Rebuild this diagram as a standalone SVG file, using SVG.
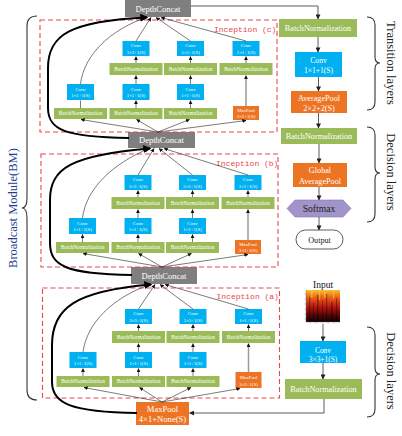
<svg xmlns="http://www.w3.org/2000/svg" width="402" height="436" viewBox="0 0 402 436">
<defs>
<style>
.bn{fill:#9bbb59}
.cv{fill:#00b0f0}
.or{fill:#ed7422}
.dc{fill:#7f7f7f}
.t{font-family:"Liberation Serif",serif;fill:#fff;text-anchor:middle}
.f5{font-size:5.4px}
.f4{font-size:4.8px}
.f8{font-size:8.2px}
.dash{fill:none;stroke:#e8474c;stroke-width:1.1;stroke-dasharray:5,3}
.lab{font-family:"Liberation Mono",monospace;font-size:8px;fill:#e8474c}
.ln{fill:none;stroke:#222;stroke-width:0.6;marker-end:url(#ah)}
.gl{fill:none;stroke:#9a9a9a;stroke-width:1.5;marker-end:url(#ah)}
.th{fill:none;stroke:#000;stroke-width:2;marker-end:url(#ahb)}
.rl{fill:none;stroke:#333;stroke-width:0.8;marker-end:url(#ahr)}
.br{fill:none;stroke:#333;stroke-width:1.1}
.side{font-family:"Liberation Serif",serif;font-size:12.5px;fill:#222;text-anchor:middle}
</style>
<marker id="ah" viewBox="0 0 6 6" refX="5.5" refY="3" markerWidth="4" markerHeight="4" orient="auto" markerUnits="userSpaceOnUse"><path d="M0,0 L6,3 L0,6 z" fill="#111"/></marker>
<marker id="ahr" viewBox="0 0 6 6" refX="5.5" refY="3" markerWidth="5" markerHeight="5" orient="auto" markerUnits="userSpaceOnUse"><path d="M0,0 L6,3 L0,6 z" fill="#222"/></marker>
<marker id="ahb" viewBox="0 0 6 6" refX="5" refY="3" markerWidth="8" markerHeight="8" orient="auto" markerUnits="userSpaceOnUse"><path d="M0,0 L6,3 L0,6 z" fill="#000"/></marker>
<linearGradient id="heat" x1="0" y1="0" x2="0" y2="1">
<stop offset="0" stop-color="#f7c22c"/>
<stop offset="0.25" stop-color="#ea5a1a"/>
<stop offset="0.55" stop-color="#b3120f"/>
<stop offset="0.8" stop-color="#4d0606"/>
<stop offset="1" stop-color="#120000"/>
</linearGradient>
</defs>
<rect width="402" height="436" fill="#fff"/>

<!-- Broadcast Module bracket -->
<g id="bm">
<path class="br" d="M37,16 Q27,16 27,26 L27,198 Q27,208 22,208 Q27,208 27,218 L27,390 Q27,400 37,400"/>
<text transform="translate(17,208) rotate(-90)" font-family="Liberation Serif,serif" font-size="12.5" fill="#1f3f8f" text-anchor="middle">Broadcast Module(BM)</text>
</g>

<!-- DepthConcat nodes -->
<g id="dc-top"><rect class="dc" x="125" y="0" width="66" height="17"/><text class="t" font-size="8.5" x="158" y="11.5">DepthConcat</text></g>
<g id="dc-mid"><rect class="dc" x="128" y="132" width="67" height="16"/><text class="t" font-size="8.5" x="161.5" y="143">DepthConcat</text></g>
<g id="dc-low"><rect class="dc" x="131" y="267" width="66" height="17"/><text class="t" font-size="8.5" x="164" y="278.5">DepthConcat</text></g>
<g id="maxpool-in"><rect class="or" x="136" y="402" width="53" height="23"/><text class="t" font-size="8.6" x="162.5" y="411.5">MaxPool</text><text class="t" font-size="8.6" x="162.5" y="421.5">4×1+None(S)</text></g>

<!-- Inception (c) -->
<g id="inception-c" transform="translate(40,20)">
<rect class="dash" x="0" y="0" width="237" height="112"/><text class="lab" x="174" y="11.5">Inception (c)</text>
<g id="c-bn1"><rect class="bn" x="14" y="88" width="53" height="11"/><text class="t f5" x="40.5" y="95.4">BatchNormalization</text></g>
<g id="c-cv1"><rect class="cv" x="27" y="64" width="27" height="16"/><text class="t f4" x="40.5" y="70.5">Conv</text><text class="t f4" x="40.5" y="77">1×1+1(S)</text></g>
<g id="c-bn2"><rect class="bn" x="69.5" y="88" width="53" height="11"/><text class="t f5" x="96" y="95.4">BatchNormalization</text></g>
<g id="c-cv2"><rect class="cv" x="82.5" y="64" width="27" height="16"/><text class="t f4" x="96" y="70.5">Conv</text><text class="t f4" x="96" y="77">1×1+1(S)</text></g>
<g id="c-bn2u"><rect class="bn" x="69.5" y="43" width="53" height="12"/><text class="t f5" x="96" y="50.9">BatchNormalization</text></g>
<g id="c-cv2u"><rect class="cv" x="82.5" y="21" width="27" height="15"/><text class="t f4" x="96" y="27">Conv</text><text class="t f4" x="96" y="33.5">3×3+1(S)</text></g>
<g id="c-bn3"><rect class="bn" x="124" y="88" width="53" height="11"/><text class="t f5" x="150.5" y="95.4">BatchNormalization</text></g>
<g id="c-cv3"><rect class="cv" x="137" y="64" width="27" height="16"/><text class="t f4" x="150.5" y="70.5">Conv</text><text class="t f4" x="150.5" y="77">1×1+1(S)</text></g>
<g id="c-bn3u"><rect class="bn" x="124" y="43" width="53" height="12"/><text class="t f5" x="150.5" y="50.9">BatchNormalization</text></g>
<g id="c-cv3u"><rect class="cv" x="137" y="21" width="27" height="15"/><text class="t f4" x="150.5" y="27">Conv</text><text class="t f4" x="150.5" y="33.5">5×5+1(S)</text></g>
<g id="c-mp"><rect class="or" x="193" y="86" width="26" height="14"/><text class="t f4" x="206" y="92">MaxPool</text><text class="t f4" x="206" y="98">3×3+1(S)</text></g>
<g id="c-bn4u"><rect class="bn" x="179.5" y="43" width="53" height="12"/><text class="t f5" x="206" y="50.9">BatchNormalization</text></g>
<g id="c-cv4u"><rect class="cv" x="192.5" y="21" width="27" height="15"/><text class="t f4" x="206" y="27">Conv</text><text class="t f4" x="206" y="33.5">1×1+1(S)</text></g>
</g>

<!-- Inception (b) -->
<g id="inception-b" transform="translate(42,154)">
<rect class="dash" x="-1" y="0" width="237" height="113"/><text class="lab" x="174" y="11.5">Inception (b)</text>
<g id="b-bn1"><rect class="bn" x="14" y="88" width="53" height="11"/><text class="t f5" x="40.5" y="95.4">BatchNormalization</text></g>
<g id="b-cv1"><rect class="cv" x="27" y="64" width="27" height="16"/><text class="t f4" x="40.5" y="70.5">Conv</text><text class="t f4" x="40.5" y="77">1×1+1(S)</text></g>
<g id="b-bn2"><rect class="bn" x="69.5" y="88" width="53" height="11"/><text class="t f5" x="96" y="95.4">BatchNormalization</text></g>
<g id="b-cv2"><rect class="cv" x="82.5" y="64" width="27" height="16"/><text class="t f4" x="96" y="70.5">Conv</text><text class="t f4" x="96" y="77">1×1+1(S)</text></g>
<g id="b-bn2u"><rect class="bn" x="69.5" y="43" width="53" height="12"/><text class="t f5" x="96" y="50.9">BatchNormalization</text></g>
<g id="b-cv2u"><rect class="cv" x="82.5" y="21" width="27" height="15"/><text class="t f4" x="96" y="27">Conv</text><text class="t f4" x="96" y="33.5">3×3+1(S)</text></g>
<g id="b-bn3"><rect class="bn" x="124" y="88" width="53" height="11"/><text class="t f5" x="150.5" y="95.4">BatchNormalization</text></g>
<g id="b-cv3"><rect class="cv" x="137" y="64" width="27" height="16"/><text class="t f4" x="150.5" y="70.5">Conv</text><text class="t f4" x="150.5" y="77">1×1+1(S)</text></g>
<g id="b-bn3u"><rect class="bn" x="124" y="43" width="53" height="12"/><text class="t f5" x="150.5" y="50.9">BatchNormalization</text></g>
<g id="b-cv3u"><rect class="cv" x="137" y="21" width="27" height="15"/><text class="t f4" x="150.5" y="27">Conv</text><text class="t f4" x="150.5" y="33.5">5×5+1(S)</text></g>
<g id="b-mp"><rect class="or" x="193" y="86" width="26" height="14"/><text class="t f4" x="206" y="92">MaxPool</text><text class="t f4" x="206" y="98">3×3+1(S)</text></g>
<g id="b-bn4u"><rect class="bn" x="179.5" y="43" width="53" height="12"/><text class="t f5" x="206" y="50.9">BatchNormalization</text></g>
<g id="b-cv4u"><rect class="cv" x="192.5" y="21" width="27" height="15"/><text class="t f4" x="206" y="27">Conv</text><text class="t f4" x="206" y="33.5">1×1+1(S)</text></g>
</g>

<!-- Inception (a) -->
<g id="inception-a" transform="translate(42.5,288)">
<rect class="dash" x="0" y="0" width="237" height="110"/><text class="lab" x="174" y="10.5">Inception (a)</text>
<g id="a-bn1"><rect class="bn" x="14" y="88" width="53" height="11"/><text class="t f5" x="40.5" y="95.4">BatchNormalization</text></g>
<g id="a-cv1"><rect class="cv" x="27" y="64" width="27" height="16"/><text class="t f4" x="40.5" y="70.5">Conv</text><text class="t f4" x="40.5" y="77">1×1+1(S)</text></g>
<g id="a-bn2"><rect class="bn" x="69.5" y="88" width="53" height="11"/><text class="t f5" x="96" y="95.4">BatchNormalization</text></g>
<g id="a-cv2"><rect class="cv" x="82.5" y="64" width="27" height="16"/><text class="t f4" x="96" y="70.5">Conv</text><text class="t f4" x="96" y="77">1×1+1(S)</text></g>
<g id="a-bn2u"><rect class="bn" x="69.5" y="43" width="53" height="12"/><text class="t f5" x="96" y="50.9">BatchNormalization</text></g>
<g id="a-cv2u"><rect class="cv" x="82.5" y="21" width="27" height="15"/><text class="t f4" x="96" y="27">Conv</text><text class="t f4" x="96" y="33.5">3×3+1(S)</text></g>
<g id="a-bn3"><rect class="bn" x="124" y="88" width="53" height="11"/><text class="t f5" x="150.5" y="95.4">BatchNormalization</text></g>
<g id="a-cv3"><rect class="cv" x="137" y="64" width="27" height="16"/><text class="t f4" x="150.5" y="70.5">Conv</text><text class="t f4" x="150.5" y="77">1×1+1(S)</text></g>
<g id="a-bn3u"><rect class="bn" x="124" y="43" width="53" height="12"/><text class="t f5" x="150.5" y="50.9">BatchNormalization</text></g>
<g id="a-cv3u"><rect class="cv" x="137" y="21" width="27" height="15"/><text class="t f4" x="150.5" y="27">Conv</text><text class="t f4" x="150.5" y="33.5">5×5+1(S)</text></g>
<g id="a-mp"><rect class="or" x="193" y="84" width="26" height="16"/><text class="t f4" x="206" y="91">MaxPool</text><text class="t f4" x="206" y="97.5">3×3+1(S)</text></g>
<g id="a-bn4u"><rect class="bn" x="179.5" y="43" width="53" height="12"/><text class="t f5" x="206" y="50.9">BatchNormalization</text></g>
<g id="a-cv4u"><rect class="cv" x="192.5" y="21" width="27" height="15"/><text class="t f4" x="206" y="27">Conv</text><text class="t f4" x="206" y="33.5">1×1+1(S)</text></g>
</g>

<!-- Right column -->
<g id="tr-bn"><rect class="bn" x="279" y="19" width="78" height="18"/><text class="t f8" x="318" y="30.9">BatchNormalization</text></g>
<g id="tr-conv"><rect class="cv" x="295" y="52" width="47" height="25"/><text class="t" font-size="7.6" x="318.5" y="62.5">Conv</text><text class="t" font-size="7.6" x="318.5" y="72.5">1×1+1(S)</text></g>
<g id="tr-avg"><rect class="or" x="291" y="91" width="56" height="22"/><text class="t" font-size="8.2" x="319" y="101">AveragePool</text><text class="t" font-size="8.2" x="319" y="110.5">2×2+2(S)</text></g>
<g id="de-bn"><rect class="bn" x="281" y="128" width="76" height="16"/><text class="t f8" x="319" y="138.9">BatchNormalization</text></g>
<g id="de-gap"><rect class="or" x="293" y="163" width="54" height="24"/><text class="t" font-size="8.2" x="320" y="173">Global</text><text class="t" font-size="8.2" x="320" y="184">AveragePool</text></g>
<g id="softmax"><polygon points="287,208.5 295,200 343,200 351,208.5 343,217 295,217" fill="#a094c8" stroke="#8576b5" stroke-width="0.6"/><text x="319" y="211.8" font-family="Liberation Serif,serif" font-size="9.6" fill="#222" text-anchor="middle">Softmax</text></g>
<g id="output"><rect x="296" y="230" width="47" height="19" rx="9.5" fill="#fff" stroke="#333" stroke-width="0.8"/><text x="319.5" y="242.5" font-family="Liberation Serif,serif" font-size="8.2" fill="#222" text-anchor="middle">Output</text></g>

<g id="input">
<text x="323" y="287.5" font-family="Liberation Serif,serif" font-size="9.5" fill="#111" text-anchor="middle">Input</text>
<rect x="306" y="290" width="34" height="32" fill="url(#heat)"/>
<g fill="#000" opacity="0.35">
<rect x="309" y="297" width="1.2" height="25"/><rect x="313" y="303" width="1" height="19"/><rect x="317" y="295" width="1.5" height="27"/><rect x="322" y="300" width="1" height="22"/><rect x="326" y="294" width="1.2" height="28"/><rect x="331" y="302" width="1.5" height="20"/><rect x="336" y="298" width="1" height="24"/>
</g>
<g fill="#ffd84a" opacity="0.5">
<rect x="311" y="290" width="1.5" height="8"/><rect x="319" y="290" width="1" height="10"/><rect x="324" y="291" width="1.5" height="7"/><rect x="333" y="290" width="1.2" height="9"/>
</g>
<path d="M306,290 V322 H340" fill="none" stroke="#666" stroke-width="0.4"/>
<path d="M304.5,294 H306 M304.5,299 H306 M304.5,304 H306 M304.5,309 H306 M304.5,314 H306 M304.5,319 H306 M310,322 V323.5 M316,322 V323.5 M322,322 V323.5 M328,322 V323.5 M334,322 V323.5" stroke="#666" stroke-width="0.4"/>
</g>
<g id="de-conv"><rect class="cv" x="300" y="341" width="46" height="22"/><text class="t" font-size="7.4" x="323" y="352.5">Conv</text><text class="t" font-size="7.4" x="323" y="361.5">3×3+1(S)</text></g>
<g id="de-bn2"><rect class="bn" x="285" y="379" width="77" height="20"/><text class="t f8" x="323.5" y="392">BatchNormalization</text></g>

<!-- Braces and side labels -->
<g id="brace-transition"><path class="br" d="M367,17 Q375,17 375,25 L375,57 Q375,63 380,63 Q375,63 375,69 L375,102 Q375,110 367,110"/><text class="side" transform="translate(387,63) rotate(90)">Transition layers</text></g>
<g id="brace-decision1"><path class="br" d="M367,127 Q375,127 375,135 L375,167 Q375,173 380,173 Q375,173 375,179 L375,214 Q375,222 367,222"/><text class="side" transform="translate(387,172) rotate(90)">Decision layers</text></g>
<g id="brace-decision2"><path class="br" d="M367,327 Q375,327 375,335 L375,368 Q375,374 380,374 Q375,374 375,380 L375,409 Q375,417 367,417"/><text class="side" transform="translate(387,371) rotate(90)">Decision layers</text></g>

<!-- Connectors -->
<g id="connectors">
<g transform="translate(40,20)">
<path class="ln" d="M40.5,88 V80.5 M96,88 V80.5"/><path class="ln" d="M150.5,88 V80.5"/>
<path class="ln" d="M96,64 V55.5"/><path class="ln" d="M150.5,64 V55.5"/>
<path class="ln" d="M96,43 V36.5"/><path class="ln" d="M150.5,43 V36.5"/><path class="ln" d="M206,43 V36.5"/>
<path class="gl" d="M206,86 V55.5"/>
</g>
<g transform="translate(42,154)">
<path class="ln" d="M40.5,88 V80.5"/><path class="ln" d="M96,88 V80.5"/><path class="ln" d="M150.5,88 V80.5"/>
<path class="ln" d="M96,64 V55.5"/><path class="ln" d="M150.5,64 V55.5"/>
<path class="ln" d="M96,43 V36.5"/><path class="ln" d="M150.5,43 V36.5"/><path class="ln" d="M206,43 V36.5"/>
<path class="gl" d="M206,86 V55.5"/>
</g>
<g transform="translate(42.5,288)">
<path class="ln" d="M40.5,88 V80.5"/><path class="ln" d="M96,88 V80.5"/><path class="ln" d="M150.5,88 V80.5"/>
<path class="ln" d="M96,64 V55.5"/><path class="ln" d="M150.5,64 V55.5"/>
<path class="ln" d="M96,43 V36.5"/><path class="ln" d="M150.5,43 V36.5"/><path class="ln" d="M206,43 V36.5"/>
<path class="gl" d="M206,84 V55.5"/>
</g>
<!-- to top DepthConcat -->
<path class="ln" d="M80.5,84 C84,55 110,30 146,17.5"/>
<path class="ln" d="M136,41 L151,17.5"/><path class="ln" d="M190.5,41 L156,17.5"/><path class="ln" d="M246,41 L161,17.5"/>
<path class="ln" d="M158,132 L81,119.5"/><path class="ln" d="M158,132 L136.5,119.5"/><path class="ln" d="M158,132 L189.5,119.5"/><path class="ln" d="M158,132 L246,120.5"/>
<path class="th" d="M129,138 C65,137 48,130 48,108 L48,68 C48,35 70,21 147,17.5"/>
<!-- to middle DepthConcat -->
<path class="ln" d="M82.5,218 C86,189 112,164 149,148.5"/>
<path class="ln" d="M138,175 L154,148.5"/><path class="ln" d="M192.5,175 L159,148.5"/><path class="ln" d="M248,175 L164,148.5"/>
<path class="ln" d="M162,267 L83,253.5"/><path class="ln" d="M162,267 L138.5,253.5"/><path class="ln" d="M162,267 L191.5,253.5"/><path class="ln" d="M162,267 L248,254.5"/>
<path class="th" d="M132,275 C66,274 50,266 50,243 L50,200 C50,168 72,155 150,148.5"/>
<!-- to lower DepthConcat -->
<path class="ln" d="M83,352 C87,323 112,298 150,284.5"/>
<path class="ln" d="M138.5,309 L155,284.5"/><path class="ln" d="M193,309 L160,284.5"/><path class="ln" d="M248.5,309 L165,284.5"/>
<path class="ln" d="M162,402 L84,387.5"/><path class="ln" d="M162,402 L139.5,387.5"/><path class="ln" d="M162,402 L191,387.5"/><path class="ln" d="M162,402 L240,388.5"/>
<path class="th" d="M137,413 C72,412 52,404 52,382 L52,345 C52,308 75,291 151,284.5"/>
<!-- right column -->
<path class="rl" d="M191,6 L318,6 L318,19"/>
<path class="rl" d="M318,37 V52"/><path class="rl" d="M318.5,77 V91"/><path class="rl" d="M318.5,113 V128"/>
<path class="rl" d="M319,144 V163"/><path class="rl" d="M319,187 V200"/><path class="rl" d="M319,217 V230"/>
<path class="rl" d="M323,324 V341"/><path class="rl" d="M323,363 V379"/>
<path class="rl" d="M324,399 V413 H189.5"/>
</g>
</svg>
